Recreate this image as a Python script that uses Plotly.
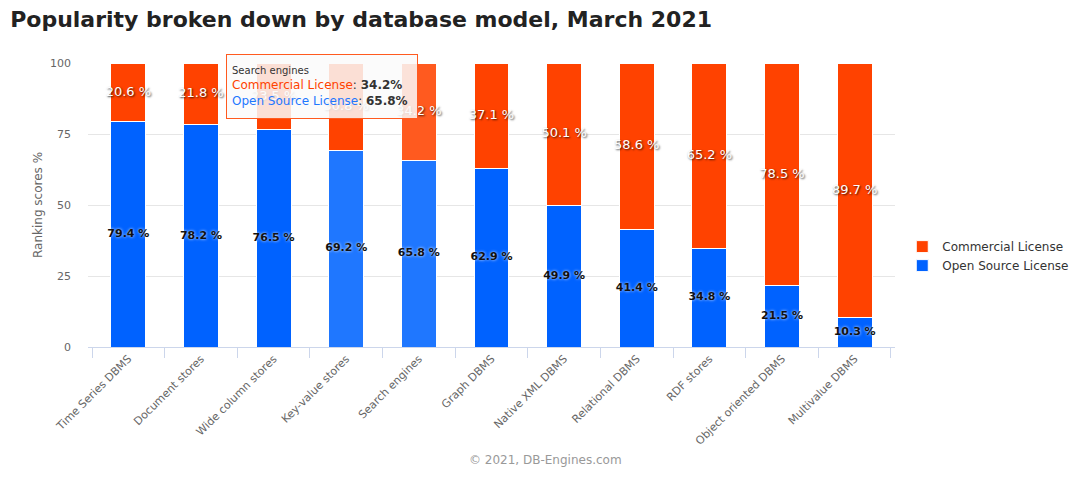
import plotly.graph_objects as go

categories = ["Time Series DBMS", "Document stores", "Wide column stores", "Key-value stores",
              "Search engines", "Graph DBMS", "Native XML DBMS", "Relational DBMS",
              "RDF stores", "Object oriented DBMS", "Multivalue DBMS"]
open_source = [79.4, 78.2, 76.5, 69.2, 65.8, 62.9, 49.9, 41.4, 34.8, 21.5, 10.3]
commercial = [20.6, 21.8, 23.5, 30.8, 34.2, 37.1, 50.1, 58.6, 65.2, 78.5, 89.7]
y_ticks = [0, 25, 50, 75, 100]

ORANGE = "#ff4200"
BLUE = "#0062ff"
ORANGE_H = "#ff5a1f"
BLUE_H = "#1f77ff"

blue_colors = [BLUE_H if c in ("Key-value stores", "Search engines") else BLUE for c in categories]
orange_colors = [ORANGE_H if c == "Search engines" else ORANGE for c in categories]

fig = go.Figure()
fig.add_trace(go.Bar(
    x=categories, y=open_source, name="Open Source License",
    marker=dict(color=blue_colors, line=dict(color="white", width=1)),
    hoverinfo="skip",
))
fig.add_trace(go.Bar(
    x=categories, y=commercial, name="Commercial License",
    marker=dict(color=orange_colors, line=dict(color="white", width=1)),
    hoverinfo="skip",
))

# data labels centred in each segment (positions derived from the data)
open_mid = [o / 2 for o in open_source]
comm_mid = [o + c / 2 for o, c in zip(open_source, commercial)]
fig.add_trace(go.Scatter(
    x=categories, y=open_mid, mode="text", showlegend=False, hoverinfo="skip",
    text=[f"{v} %" for v in open_source],
    textfont=dict(family="DejaVu Sans", size=11, color="#111", weight="bold",
                  shadow="0px 0px 3px rgba(255,255,255,0.95)"),
))
fig.add_trace(go.Scatter(
    x=categories, y=comm_mid, mode="text", showlegend=False, hoverinfo="skip",
    text=[f"{v} %" for v in commercial],
    textfont=dict(family="DejaVu Sans", size=13, color="white",
                  shadow="1px 1px 2px rgba(0,0,0,0.75)"),
))

# page body has an 8px margin, so the figure is shrunk and shifted accordingly
fig.update_layout(
    barmode="stack",
    bargap=0.52,
    width=1072, height=469,
    margin=dict(l=80, r=185, t=55, b=130, autoexpand=False),
    plot_bgcolor="white", paper_bgcolor="white",
    font=dict(family="DejaVu Sans", color="#666", size=11),
    title=dict(text="<b>Popularity broken down by database model, March 2021</b>",
               x=0.002, xanchor="left", y=0.976, yanchor="middle",
               font=dict(family="DejaVu Sans", size=22, color="#222")),
    legend=dict(x=1.009, xanchor="left", y=0.32, yanchor="middle", traceorder="reversed",
                font=dict(size=12, color="#333")),
    showlegend=True,
)
fig.update_xaxes(
    tickangle=-45, tickson="boundaries", ticks="outside", ticklen=10, tickcolor="#ccd6eb",
    showline=True, linecolor="#ccd6eb", linewidth=1, showgrid=False, automargin=False,
    tickfont=dict(size=11, color="#666"),
)
fig.update_yaxes(
    range=[0, 100], tickvals=y_ticks, showgrid=True, gridcolor="#e6e6e6", zeroline=False,
    automargin=False, ticklabelstandoff=16,
    title=dict(text="Ranking scores %", font=dict(size=12, color="#666"), standoff=4),
    tickfont=dict(size=11, color="#666"),
)

# tooltip imitation
fig.add_annotation(
    xref="paper", yref="paper", x=0.171, y=1.032, xanchor="left", yanchor="top",
    text=("<span style='font-size:10px;color:#333'>Search engines</span><br>"
          "<span style='color:#ff4200'>Commercial License</span>: <b>34.2%</b><br>"
          "<span style='color:#1f77ff'>Open Source License</span>: <b>65.8%</b>"),
    align="left", valign="middle", showarrow=False, bgcolor="rgba(250,250,250,0.85)",
    bordercolor="#ff5a1f", borderwidth=1, borderpad=5, width=180, height=53,
    font=dict(size=12, color="#333"),
)
fig.add_annotation(
    xref="paper", yref="paper", x=0.567, y=-0.398, xanchor="center", yanchor="middle",
    text="© 2021, DB-Engines.com", showarrow=False, font=dict(size=12, color="#999"),
)

fig.write_html("out.html")
